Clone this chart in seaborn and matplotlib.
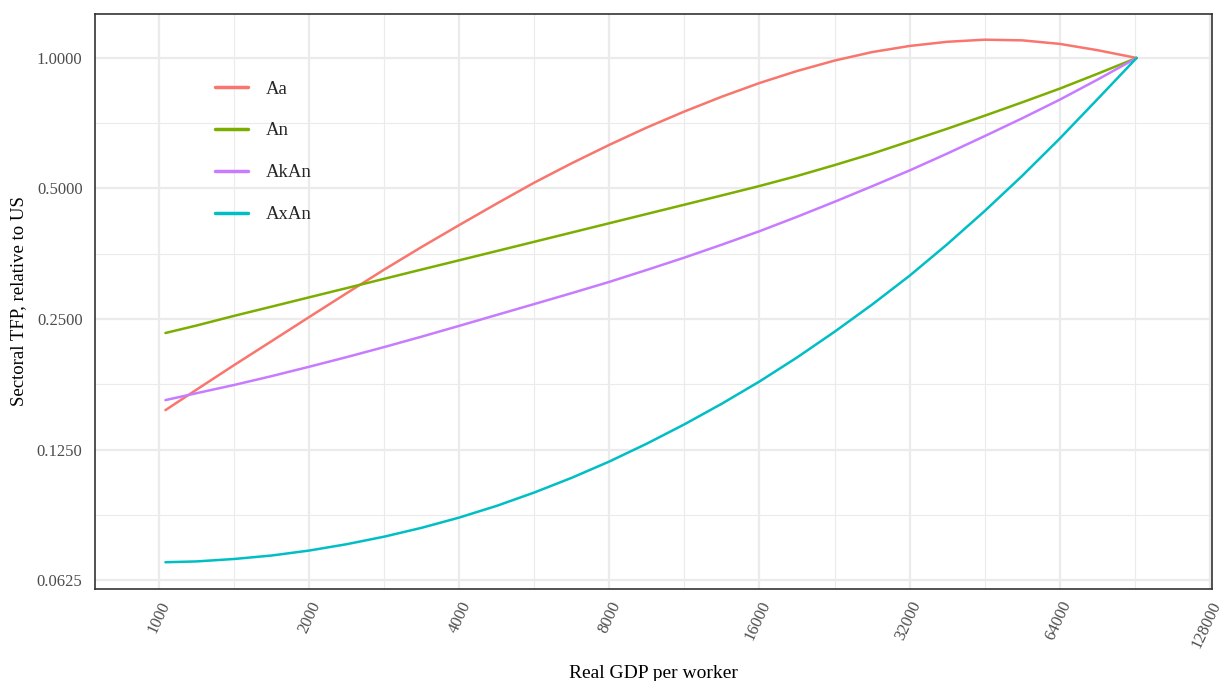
import numpy as np
import pandas as pd
import matplotlib
matplotlib.use("Agg")
import matplotlib.pyplot as plt
import seaborn as sns
from matplotlib.ticker import FixedLocator, FixedFormatter, NullFormatter

# ---- data ----
gdp = [1030, 1189, 1414, 1682, 2000, 2378, 2828, 3364, 4000, 4757, 5657, 6727,
       8000, 9514, 11314, 13454, 16000, 19027, 22627, 26909, 32000, 38055,
       45255, 53817, 64000, 76109, 91300]
Aa = [0.1541, 0.1718, 0.1957, 0.2223, 0.2526, 0.2867, 0.3250, 0.3667, 0.4118,
      0.4616, 0.5159, 0.5719, 0.6305, 0.6913, 0.7526, 0.8144, 0.8754, 0.9330,
      0.9862, 1.0317, 1.0658, 1.0897, 1.1019, 1.0981, 1.0777, 1.0425, 1.0]
An = [0.2321, 0.2415, 0.2542, 0.2670, 0.2805, 0.2946, 0.3095, 0.3252, 0.3415,
      0.3587, 0.3768, 0.3958, 0.4158, 0.4368, 0.4588, 0.4820, 0.5066, 0.5343,
      0.5661, 0.6014, 0.6424, 0.6866, 0.7359, 0.7900, 0.8497, 0.9189, 1.0]
AkAn = [0.1625, 0.1686, 0.1761, 0.1846, 0.1940, 0.2042, 0.2154, 0.2277, 0.2411,
        0.2555, 0.2707, 0.2869, 0.3045, 0.3245, 0.3464, 0.3711, 0.3985, 0.4302,
        0.4659, 0.5059, 0.5503, 0.6018, 0.6603, 0.7259, 0.8012, 0.8906, 1.0]
AxAn = [0.0687, 0.0690, 0.0699, 0.0712, 0.0731, 0.0756, 0.0787, 0.0825, 0.0871,
        0.0927, 0.0995, 0.1076, 0.1173, 0.1290, 0.1429, 0.1595, 0.1794, 0.2038,
        0.2336, 0.2699, 0.3146, 0.3717, 0.4435, 0.5347, 0.6517, 0.8023, 1.0]

series_names = ["Aa", "An", "AkAn", "AxAn"]
x_ticks = [1000, 2000, 4000, 8000, 16000, 32000, 64000, 128000]
x_tick_labels = ["1000", "2000", "4000", "8000", "16000", "32000", "64000", "128000"]
y_ticks = [0.0625, 0.125, 0.25, 0.5, 1.0]
y_tick_labels = ["0.0625", "0.1250", "0.2500", "0.5000", "1.0000"]

df = pd.concat([
    pd.DataFrame({"gdp": gdp, "tfp": vals, "series": name})
    for name, vals in zip(series_names, [Aa, An, AkAn, AxAn])
])

sns.set_theme(style="white")
plt.rcParams["font.family"] = ["Liberation Serif", "DejaVu Serif"]

fig = plt.figure(figsize=(12.25, 6.81), dpi=100)
ax = fig.add_axes([95/1225, 1-589/681, (1212-95)/1225, (589-14)/681])

palette = ["#F8766D", "#7CAE00", "#C77CFF", "#00BFC4"]
sns.lineplot(data=df, x="gdp", y="tfp", hue="series", hue_order=series_names,
             palette=palette, linewidth=1.8, ax=ax, sort=True, estimator=None)

ax.set_xscale("log", base=2)
ax.set_yscale("log", base=2)
ax.set_xlim(744, 129300)
ax.set_ylim(0.0596, 1.263)

ax.xaxis.set_major_locator(FixedLocator(x_ticks))
ax.xaxis.set_major_formatter(FixedFormatter(x_tick_labels))
ax.yaxis.set_major_locator(FixedLocator(y_ticks))
ax.yaxis.set_major_formatter(FixedFormatter(y_tick_labels))
xminor = [t * np.sqrt(2) for t in x_ticks]
yminor = [t * np.sqrt(2) for t in y_ticks]
ax.xaxis.set_minor_locator(FixedLocator(xminor))
ax.yaxis.set_minor_locator(FixedLocator(yminor))
ax.xaxis.set_minor_formatter(NullFormatter())
ax.yaxis.set_minor_formatter(NullFormatter())

ax.grid(True, which="major", color="#EBEBEB", linewidth=1.6, zorder=0)
ax.grid(True, which="minor", color="#EBEBEB", linewidth=0.8, zorder=0)
ax.set_axisbelow(True)

for sp in ax.spines.values():
    sp.set_color("#333333")
    sp.set_linewidth(1.2)

ax.tick_params(axis="both", which="major", length=4, width=1.1, color="#333333",
               labelsize=12, labelcolor="#4D4D4D", direction="out")
ax.tick_params(axis="both", which="minor", length=0)
ax.tick_params(axis="y", pad=5)
ax.tick_params(axis="x", pad=3)
for lab in ax.get_xticklabels():
    lab.set_rotation(65)
    lab.set_ha("right")
    lab.set_va("top")
    lab.set_rotation_mode("anchor")

ax.set_xlabel("Real GDP per worker", fontsize=14, color="black")
ax.set_ylabel("Sectoral TFP, relative to US", fontsize=13.5, color="black")
ax.xaxis.set_label_coords(0.5, -0.132)
ax.yaxis.set_label_coords(-0.061, 0.5)

leg = ax.legend(loc="upper left", bbox_to_anchor=(0.1007, 0.8975), frameon=False,
                fontsize=13.5, handlelength=1.76, handletextpad=0.96, labelspacing=1.32,
                borderaxespad=0)
for line in leg.get_lines():
    line.set_linewidth(2.5)

fig.savefig("out.png", dpi=100)
